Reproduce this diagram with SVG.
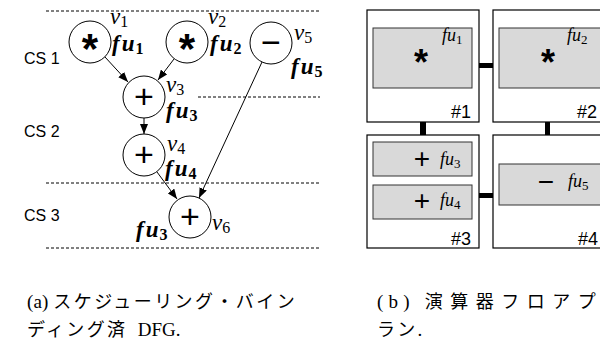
<svg xmlns="http://www.w3.org/2000/svg" width="600" height="344" viewBox="0 0 600 344">
<defs>
<style>
.cs{font-family:"Liberation Sans",Arial,sans-serif;font-size:16px;fill:#000}
.node circle{fill:#fff;stroke:#000;stroke-width:1}
.op{font-family:"Liberation Sans",Arial,sans-serif;fill:#000;text-anchor:middle}
.ast{font-family:"Liberation Sans",Arial,sans-serif;font-weight:bold;fill:#000;text-anchor:middle}
.v{font-family:"Liberation Serif","Times New Roman",serif;font-style:italic;font-size:23px;fill:#000}
.fu{font-family:"Liberation Serif","Times New Roman",serif;font-style:italic;font-weight:bold;font-size:23px;fill:#000}
.sub{font-style:normal;font-size:16px}
.dash{stroke:#000;stroke-width:1;stroke-dasharray:3 2;fill:none}
.edge{stroke:#000;stroke-width:1;fill:none;marker-end:url(#ah)}
.box{fill:#fff;stroke:#000;stroke-width:1.2}
.fuBox{fill:#d9d9d9;stroke:#333;stroke-width:1}
.bar{fill:#000}
.rfu{font-family:"Liberation Serif","Times New Roman",serif;font-style:italic;font-size:18px;fill:#000}
.rsub{font-style:normal;font-size:13px}
.num{font-family:"Liberation Sans",Arial,sans-serif;font-size:18px;fill:#000;text-anchor:end}
.cap{font-family:"Liberation Serif","Noto Sans CJK JP",serif;font-size:19px;fill:#000}
.jp{font-family:"Noto Sans CJK JP",sans-serif;font-size:18px;letter-spacing:2.3px}
</style>
<marker id="ah" viewBox="0 0 10 8" refX="10" refY="4" markerWidth="10" markerHeight="8" markerUnits="userSpaceOnUse" orient="auto">
<path d="M0,0 L10,4 L0,8 z" fill="#000"/>
</marker>
</defs>

<g id="cs-lines">
<line class="dash" x1="46" y1="11" x2="320" y2="11"/>
<line class="dash" x1="198" y1="97" x2="320" y2="97"/>
<line class="dash" x1="46" y1="183" x2="320" y2="183"/>
<line class="dash" x1="46" y1="248" x2="320" y2="248"/>
<text class="cs" x="24" y="64">CS 1</text>
<text class="cs" x="24" y="137">CS 2</text>
<text class="cs" x="24" y="221">CS 3</text>
</g>

<g id="connectors">
<line class="edge" x1="105" y1="57" x2="128" y2="82"/>
<line class="edge" x1="174" y1="59" x2="158" y2="80"/>
<line class="edge" x1="144" y1="118" x2="144" y2="134"/>
<line class="edge" x1="157" y1="172" x2="177" y2="199"/>
<line class="edge" x1="262" y1="62" x2="199" y2="198"/>
</g>

<g id="v1" class="node">
<circle cx="90" cy="42" r="21"/>
<text class="ast" x="90" y="63" font-size="42">*</text>
<text class="v" x="110" y="24">v<tspan class="sub" dy="3">1</tspan></text>
<text class="fu" x="112" y="51">f<tspan dx="2">u</tspan><tspan class="sub" dx="1" dy="3">1</tspan></text>
</g>
<g id="v2" class="node">
<circle cx="187" cy="42" r="21"/>
<text class="ast" x="187" y="63" font-size="42">*</text>
<text class="v" x="208" y="24">v<tspan class="sub" dy="3">2</tspan></text>
<text class="fu" x="210" y="51">f<tspan dx="2">u</tspan><tspan class="sub" dx="1" dy="3">2</tspan></text>
</g>
<g id="v5" class="node">
<circle cx="271" cy="43" r="21"/>
<text class="op" x="271" y="54" font-size="34">−</text>
<text class="v" x="294" y="40">v<tspan class="sub" dy="3">5</tspan></text>
<text class="fu" x="291" y="74">f<tspan dx="2">u</tspan><tspan class="sub" dx="1" dy="3">5</tspan></text>
</g>
<g id="v3" class="node">
<circle cx="144" cy="97" r="21"/>
<text class="op" x="144" y="108" font-size="34">+</text>
<text class="v" x="166" y="92">v<tspan class="sub" dy="3">3</tspan></text>
<text class="fu" x="166" y="118">f<tspan dx="2">u</tspan><tspan class="sub" dx="1" dy="3">3</tspan></text>
</g>
<g id="v4" class="node">
<circle cx="144" cy="155" r="21"/>
<text class="op" x="144" y="166" font-size="34">+</text>
<text class="v" x="167" y="151">v<tspan class="sub" dy="3">4</tspan></text>
<text class="fu" x="165" y="176">f<tspan dx="2">u</tspan><tspan class="sub" dx="1" dy="3">4</tspan></text>
</g>
<g id="v6" class="node">
<circle cx="190" cy="217" r="21"/>
<text class="op" x="190" y="228" font-size="34">+</text>
<text class="v" x="212" y="230">v<tspan class="sub" dy="3">6</tspan></text>
<text class="fu" x="136" y="237">f<tspan dx="2">u</tspan><tspan class="sub" dx="1" dy="3">3</tspan></text>
</g>

<g id="floorplan-bars">
<rect class="bar" x="479" y="63" width="14" height="5"/>
<rect class="bar" x="420" y="122" width="6" height="13"/>
<rect class="bar" x="545" y="122" width="5" height="13"/>
<rect class="bar" x="479" y="193" width="14" height="5"/>
</g>

<g id="pe1">
<rect class="box" x="367" y="10" width="112" height="112"/>
<rect class="fuBox" x="373" y="28" width="99" height="60"/>
<text class="ast" x="421" y="75" font-size="36">*</text>
<text class="rfu" x="442" y="41">fu<tspan class="rsub" dy="3">1</tspan></text>
<text class="num" x="471" y="118">#1</text>
</g>
<g id="pe2">
<rect class="box" x="493" y="10" width="117" height="112"/>
<rect class="fuBox" x="499" y="28" width="104" height="60"/>
<text class="ast" x="548" y="75" font-size="36">*</text>
<text class="rfu" x="567" y="41">fu<tspan class="rsub" dy="3">2</tspan></text>
<text class="num" x="597" y="118">#2</text>
</g>
<g id="pe3">
<rect class="box" x="367" y="135" width="112" height="113"/>
<rect class="fuBox" x="373" y="142" width="99" height="34"/>
<text class="op" x="422" y="168" font-size="28">+</text>
<text class="rfu" x="440" y="165">fu<tspan class="rsub" dy="3">3</tspan></text>
<rect class="fuBox" x="373" y="185" width="99" height="34"/>
<text class="op" x="422" y="210" font-size="28">+</text>
<text class="rfu" x="440" y="206">fu<tspan class="rsub" dy="3">4</tspan></text>
<text class="num" x="471" y="245">#3</text>
</g>
<g id="pe4">
<rect class="box" x="493" y="135" width="117" height="113"/>
<rect class="fuBox" x="499" y="164" width="104" height="41"/>
<text class="op" x="546" y="191" font-size="28">−</text>
<text class="rfu" x="568" y="187">fu<tspan class="rsub" dy="3">5</tspan></text>
<text class="num" x="598" y="245">#4</text>
</g>

<g id="captions">
<text class="cap" x="27" y="308" textLength="270" lengthAdjust="spacing">(a) <tspan class="jp">スケジューリング・バイン</tspan></text>
<text class="cap" x="27" y="336"><tspan class="jp">ディング済</tspan><tspan x="133"> DFG.</tspan></text>
<text class="cap" x="377" y="308" textLength="221" lengthAdjust="spacing">(b) <tspan class="jp">演算器フロアプ</tspan></text>
<text class="cap" x="377" y="336"><tspan class="jp">ラン</tspan>.</text>
</g>
</svg>
